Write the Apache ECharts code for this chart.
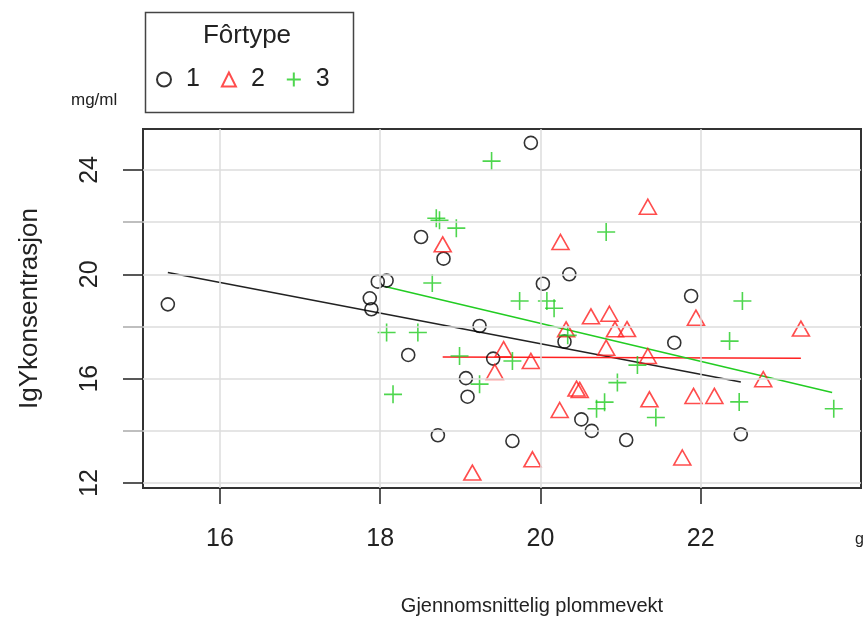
<!DOCTYPE html>
<html>
<head>
<meta charset="utf-8">
<script src="https://cdn.jsdelivr.net/npm/echarts@6/dist/echarts.min.js"></script>
<style>html,body{margin:0;padding:0;background:#fff;}#c{width:867px;height:619px;}</style>
</head>
<body>
<div id="c"></div>
<script>
// Fôrtype 1 (circles)
var g1x = [15.35,17.87,17.89,17.97,18.08,18.35,18.51,18.72,18.79,19.07,19.09,19.24,19.41,19.65,19.88,20.03,20.30,20.36,20.51,20.64,21.07,21.67,21.88,22.50];
var g1y = [18.85,19.08,18.66,19.72,19.76,16.91,21.43,13.83,20.60,16.02,15.31,18.02,16.77,13.61,25.04,19.64,17.42,20.00,14.44,14.00,13.65,17.38,19.17,13.87];
// Fôrtype 2 (triangles)
var g2x = [18.78,19.15,19.43,19.54,19.88,19.90,20.24,20.25,20.32,20.45,20.49,20.63,20.82,20.86,20.93,21.08,21.34,21.34,21.36,21.77,21.91,21.94,22.17,22.78,23.25];
var g2y = [21.15,12.40,16.26,17.13,16.68,12.91,14.80,21.24,17.89,15.62,15.57,18.39,17.19,18.49,17.89,17.90,22.59,16.87,15.21,12.98,15.34,18.34,15.34,15.98,17.92];
// Fôrtype 3 (plus)
var g3x = [18.08,18.16,18.47,18.65,18.70,18.74,18.95,18.99,19.24,19.39,19.65,19.74,20.08,20.17,20.34,20.70,20.80,20.82,20.96,21.21,21.44,22.36,22.48,22.52,23.66];
var g3y = [17.77,15.40,17.77,19.67,22.15,22.07,21.77,16.87,15.79,24.34,16.68,18.98,18.98,18.70,17.66,14.85,15.10,21.62,15.85,16.52,14.51,17.44,15.11,18.98,14.85];
// fitted lines (end points)
var fit1x = [15.35, 22.50], fit1y = [20.07, 15.87];
var fit2x = [18.78, 23.25], fit2y = [16.83, 16.78];
var fit3x = [18.06, 23.64], fit3y = [19.53, 15.47];
// ticks / grid
var xTicks = [16, 18, 20, 22];
var yLabelTicks = [12, 16, 20, 24];
var yMinorTicks = [14, 18, 22];
var yGrid = [12, 14, 16, 18, 20, 22, 24];
var groups = ['1', '2', '3'];

var FONT = 'Liberation Sans, Arial, Helvetica, sans-serif';
var C1 = '#000000', C2 = '#ff2020', C3 = '#22cc22';

function zip(xs, ys) { return xs.map(function (x, i) { return [x, ys[i]]; }); }

var gridLines = [];
xTicks.forEach(function (v) { gridLines.push({ xAxis: v }); });
yGrid.forEach(function (v) { gridLines.push({ yAxis: v }); });

var chart = echarts.init(document.getElementById('c'), null, { renderer: 'canvas' });
chart.setOption({
  animation: false,
  backgroundColor: '#ffffff',
  textStyle: { fontFamily: FONT },
  grid: { left: 143, right: 6, top: 129, bottom: 131, show: true, borderColor: '#333', borderWidth: 2, backgroundColor: 'transparent' },
  xAxis: {
    type: 'value', min: 15.04, max: 24.0,
    splitLine: { show: false },
    axisLine: { show: false },
    axisTick: { show: true, customValues: xTicks, length: 16, lineStyle: { color: '#222', width: 1.5 } },
    axisLabel: { customValues: xTicks, margin: 39, fontSize: 25, color: '#222', fontFamily: FONT }
  },
  yAxis: [{
    type: 'value', min: 11.81, max: 25.57,
    splitLine: { show: false },
    axisLine: { show: false },
    axisTick: { show: true, customValues: yLabelTicks, length: 20, lineStyle: { color: '#222', width: 1.5 } },
    axisLabel: { customValues: yLabelTicks, rotate: 90, margin: 40, fontSize: 25, color: '#222', fontFamily: FONT },
    name: 'IgYkonsentrasjon', nameLocation: 'middle', nameGap: 100, nameRotate: 90,
    nameTextStyle: { fontSize: 26, color: '#222', fontFamily: FONT }
  }, {
    type: 'value', min: 11.81, max: 25.57, position: 'left',
    splitLine: { show: false },
    axisLine: { show: false },
    axisTick: { show: true, customValues: yMinorTicks, length: 20, lineStyle: { color: '#aaa', width: 1.5 } },
    axisLabel: { show: false }
  }],
  legend: {
    data: groups,
    orient: 'horizontal',
    left: 151, top: 62,
    itemWidth: 14, itemHeight: 14, itemGap: 21,
    textStyle: { fontSize: 25, color: '#222', fontFamily: FONT, padding: [0, 0, 0, 10] },
    selectedMode: false
  },
  graphic: [
    { type: 'rect', left: 143, top: 10, shape: { width: 208, height: 100 }, style: { fill: 'none', stroke: '#444', lineWidth: 1.5 } },
    { type: 'text', x: 247, y: 36, style: { text: 'Fôrtype', font: '26px ' + FONT, fill: '#222', textAlign: 'center', textVerticalAlign: 'middle' } },
    { type: 'text', x: 71, y: 100, style: { text: 'mg/ml', font: '17px ' + FONT, fill: '#222', textAlign: 'left', textVerticalAlign: 'middle' } },
    { type: 'text', x: 532, y: 606, style: { text: 'Gjennomsnittelig plommevekt', font: '20px ' + FONT, fill: '#222', textAlign: 'center', textVerticalAlign: 'middle' } },
    { type: 'text', x: 855, y: 540, style: { text: 'g', font: '16px ' + FONT, fill: '#222', textAlign: 'left', textVerticalAlign: 'middle' } }
  ],
  series: [
    {
      type: 'line', name: 'grid', data: [], silent: true, z: 1,
      markLine: { silent: true, symbol: ['none', 'none'], label: { show: false }, lineStyle: { color: '#dcdcdc', width: 1.5, type: 'solid' }, data: gridLines }
    },
    {
      type: 'scatter', name: '1', data: zip(g1x, g1y), symbol: 'circle', symbolSize: 13, z: 3,
      itemStyle: { color: 'rgba(0,0,0,0)', borderColor: C1, borderWidth: 1.6 }
    },
    {
      type: 'scatter', name: '2', data: zip(g2x, g2y), symbol: 'triangle', symbolSize: [17, 15], z: 3,
      itemStyle: { color: 'rgba(0,0,0,0)', borderColor: C2, borderWidth: 1.6 }
    },
    {
      type: 'scatter', name: '3', data: zip(g3x, g3y), symbol: 'path://M10,0L10,20M0,10L20,10', symbolSize: 18, z: 3,
      itemStyle: { color: 'rgba(0,0,0,0)', borderColor: C3, borderWidth: 1.6 }
    },
    { type: 'line', name: 'fit1', data: zip(fit1x, fit1y), symbol: 'none', z: 2, lineStyle: { color: '#222', width: 1.5 } },
    { type: 'line', name: 'fit2', data: zip(fit2x, fit2y), symbol: 'none', z: 2, lineStyle: { color: C2, width: 1.5 } },
    { type: 'line', name: 'fit3', data: zip(fit3x, fit3y), symbol: 'none', z: 2, lineStyle: { color: C3, width: 1.5 } }
  ]
});
</script>
</body>
</html>
